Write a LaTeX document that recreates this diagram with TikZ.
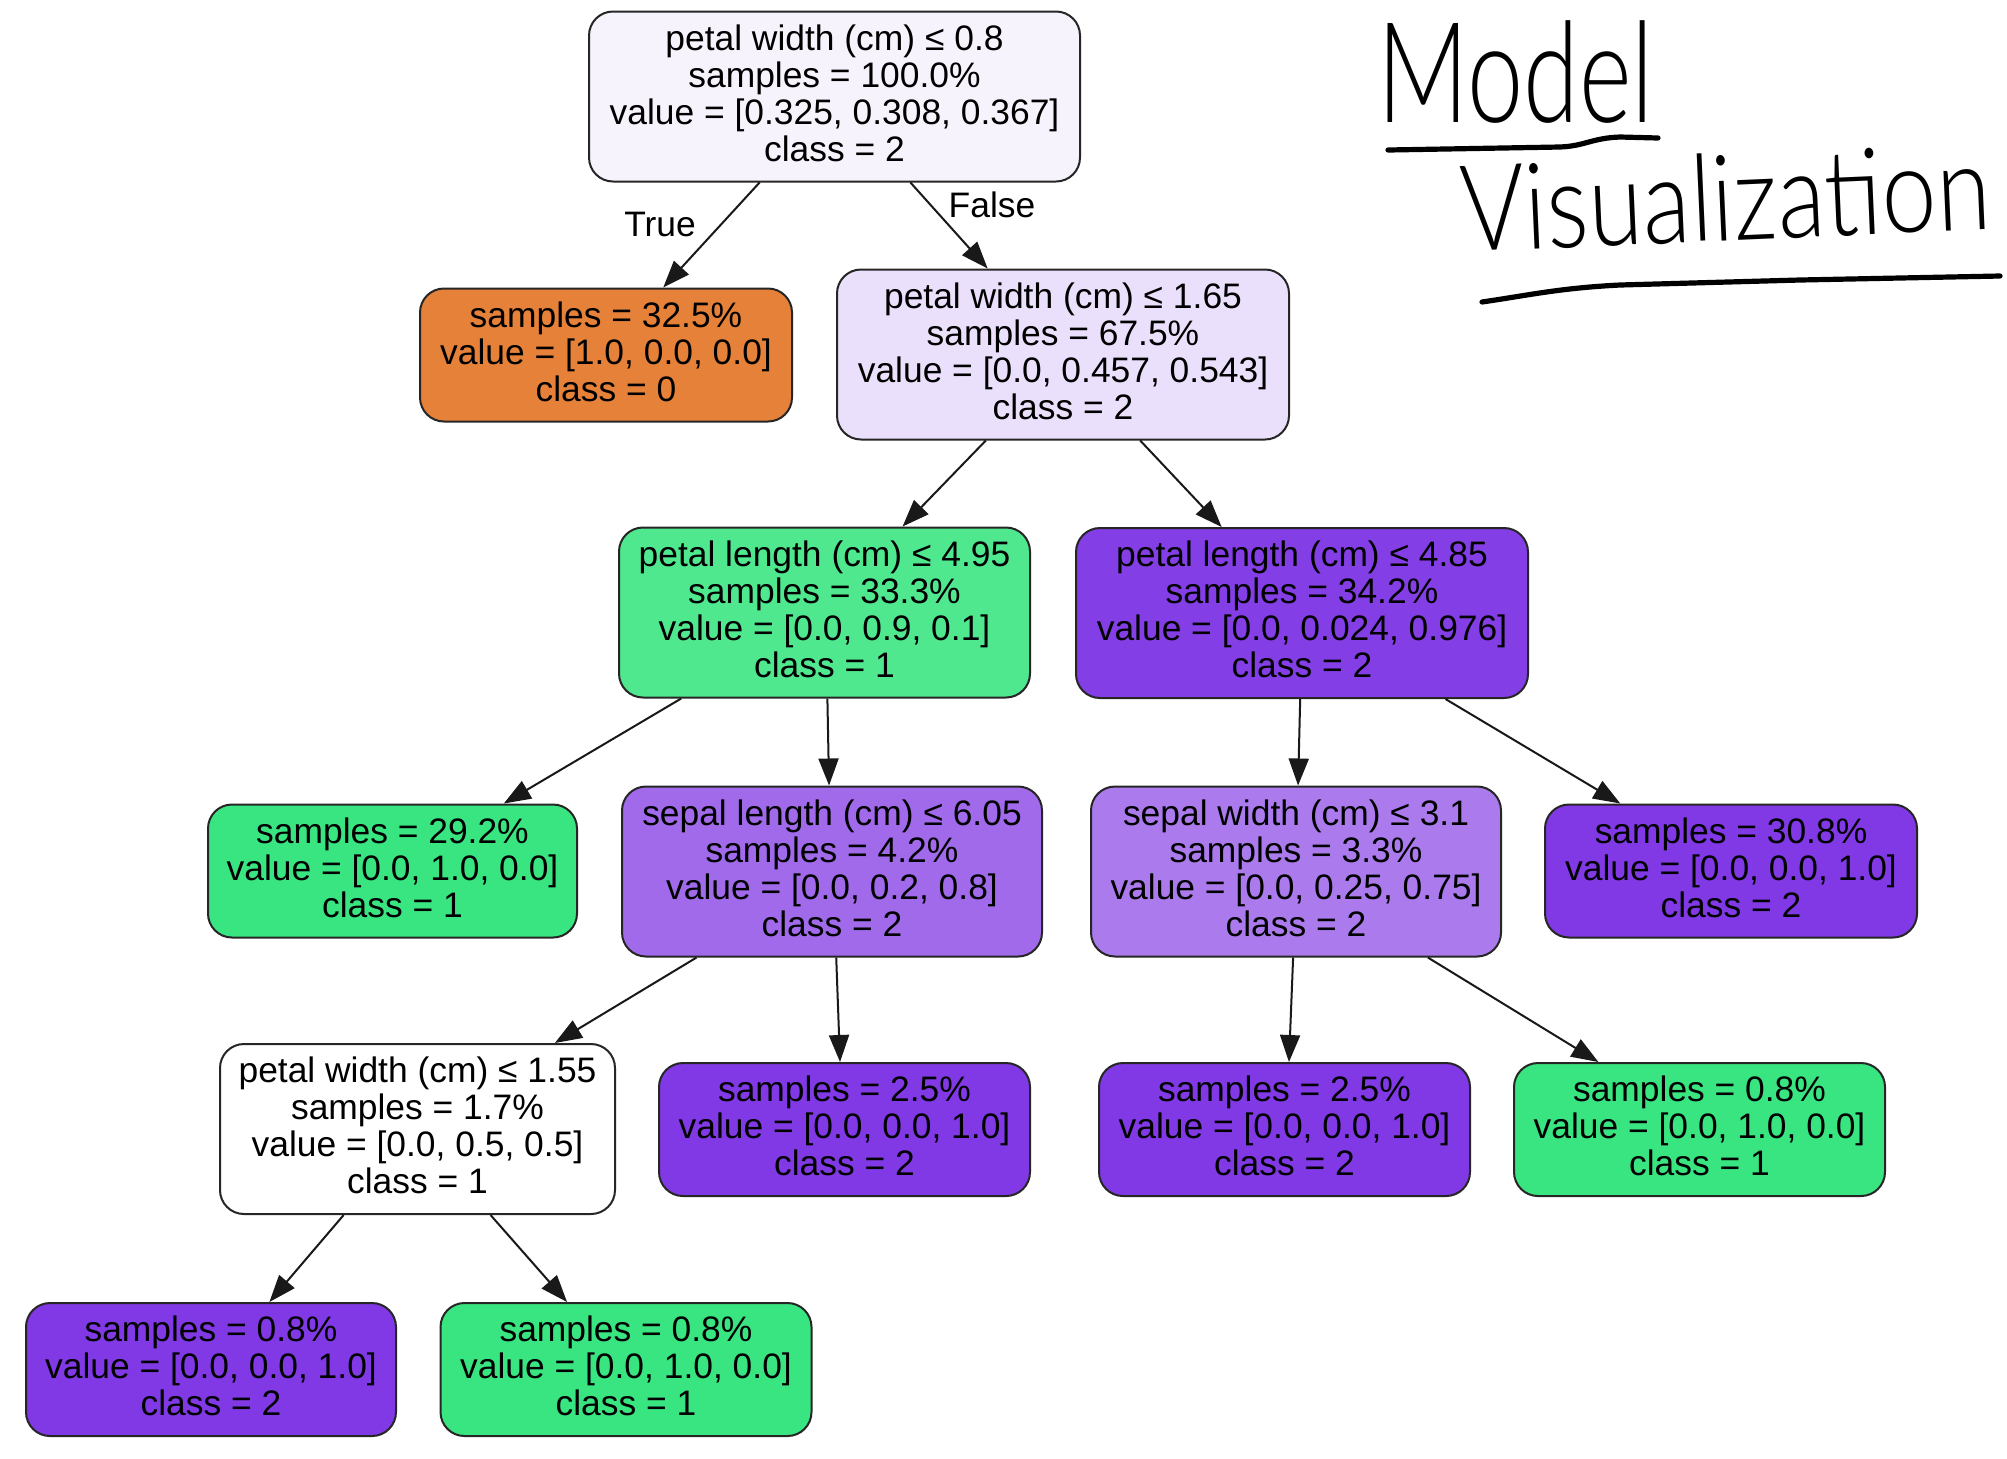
\documentclass[tikz,border=0pt]{standalone}
\usepackage{fontspec}
\usepackage{graphicx}
\setmainfont{Liberation Sans}
\newfontfamily\handfont{Lato Light}
\usetikzlibrary{arrows.meta,calc}
\definecolor{croot}{HTML}{F7F3FD}
\definecolor{corange}{HTML}{E58139}
\definecolor{cn2}{HTML}{EBE0FB}
\definecolor{cgreenA}{HTML}{4FE88F}
\definecolor{cpurpA}{HTML}{843EE6}
\definecolor{csl}{HTML}{A06AEB}
\definecolor{csw}{HTML}{AB7BEE}
\definecolor{cpurple}{HTML}{8139E5}
\definecolor{cgreen}{HTML}{39E581}
\begin{document}
\begin{tikzpicture}[x=0.5pt,y=-0.5pt,
  tn/.style={draw=black!85, line width=1pt, rounded corners=12pt, align=center,
    inner sep=0pt, text depth=3.4pt, font=\fontsize{17.7}{18.5}\selectfont},
  bigbox/.style={minimum height=85pt},
  smallbox/.style={minimum height=66.5pt},
  tedge/.style={line width=1pt, draw=black!90, -{Triangle[length=13.5pt,width=10pt]}},
  lbl/.style={font=\fontsize{17.7}{18.5}\selectfont, inner sep=0pt},
  hand/.style={line width=2.6pt, line cap=round, line join=round}
]
\fill[white] (0,0) rectangle (2007,1458);
\useasboundingbox (0,0) rectangle (2007,1458);

\node[tn,bigbox,fill=croot,minimum width=245.5pt] (root) at (834.5,96.5)
  {petal width (cm) ≤ 0.8\\samples = 100.0\%\\value = [0.325, 0.308, 0.367]\\class = 2};
\node[tn,smallbox,fill=corange,minimum width=186pt] (n1) at (606,355)
  {samples = 32.5\%\\value = [1.0, 0.0, 0.0]\\class = 0};
\node[tn,bigbox,fill=cn2,minimum width=226pt] (n2) at (1063,354.5)
  {petal width (cm) ≤ 1.65\\samples = 67.5\%\\value = [0.0, 0.457, 0.543]\\class = 2};
\node[tn,bigbox,fill=cgreenA,minimum width=205.5pt] (n3) at (824.5,612.5)
  {petal length (cm) ≤ 4.95\\samples = 33.3\%\\value = [0.0, 0.9, 0.1]\\class = 1};
\node[tn,bigbox,fill=cpurpA,minimum width=226pt] (n4) at (1302,613)
  {petal length (cm) ≤ 4.85\\samples = 34.2\%\\value = [0.0, 0.024, 0.976]\\class = 2};
\node[tn,smallbox,fill=cgreen,minimum width=184.5pt] (n5) at (392.5,871)
  {samples = 29.2\%\\value = [0.0, 1.0, 0.0]\\class = 1};
\node[tn,bigbox,fill=csl,minimum width=210pt] (n6) at (832,871.5)
  {sepal length (cm) ≤ 6.05\\samples = 4.2\%\\value = [0.0, 0.2, 0.8]\\class = 2};
\node[tn,bigbox,fill=csw,minimum width=205pt] (n7) at (1296,871.5)
  {sepal width (cm) ≤ 3.1\\samples = 3.3\%\\value = [0.0, 0.25, 0.75]\\class = 2};
\node[tn,smallbox,fill=cpurple,minimum width=186pt] (n8) at (1731,871)
  {samples = 30.8\%\\value = [0.0, 0.0, 1.0]\\class = 2};
\node[tn,bigbox,fill=white,minimum width=197.5pt] (n9) at (417.5,1129)
  {petal width (cm) ≤ 1.55\\samples = 1.7\%\\value = [0.0, 0.5, 0.5]\\class = 1};
\node[tn,smallbox,fill=cpurple,minimum width=185.5pt] (n10) at (844.5,1129.5)
  {samples = 2.5\%\\value = [0.0, 0.0, 1.0]\\class = 2};
\node[tn,smallbox,fill=cpurple,minimum width=185.5pt] (n11) at (1284.5,1129.5)
  {samples = 2.5\%\\value = [0.0, 0.0, 1.0]\\class = 2};
\node[tn,smallbox,fill=cgreen,minimum width=185.5pt] (n12) at (1699.5,1129.5)
  {samples = 0.8\%\\value = [0.0, 1.0, 0.0]\\class = 1};
\node[tn,smallbox,fill=cpurple,minimum width=185pt] (n13) at (211,1369.5)
  {samples = 0.8\%\\value = [0.0, 0.0, 1.0]\\class = 2};
\node[tn,smallbox,fill=cgreen,minimum width=185.5pt] (n14) at (626,1369.5)
  {samples = 0.8\%\\value = [0.0, 1.0, 0.0]\\class = 1};

% connectors
\draw[tedge] ($(root.south west)!0.348!(root.south east)$) -- ($(n1.north west)!0.653!(n1.north east)$);
\draw[tedge] ($(root.south west)!0.654!(root.south east)$) -- ($(n2.north west)!0.334!(n2.north east)$);
\draw[tedge] ($(n2.south west)!0.330!(n2.south east)$) -- ($(n3.north west)!0.689!(n3.north east)$);
\draw[tedge] ($(n2.south west)!0.670!(n2.south east)$) -- ($(n4.north west)!0.323!(n4.north east)$);
\draw[tedge] ($(n3.south west)!0.153!(n3.south east)$) -- ($(n5.north west)!0.800!(n5.north east)$);
\draw[tedge] ($(n3.south west)!0.507!(n3.south east)$) -- ($(n6.north west)!0.493!(n6.north east)$);
\draw[tedge] ($(n4.south west)!0.496!(n4.south east)$) -- ($(n7.north west)!0.505!(n7.north east)$);
\draw[tedge] ($(n4.south west)!0.816!(n4.south east)$) -- ($(n8.north west)!0.204!(n8.north east)$);
\draw[tedge] ($(n6.south west)!0.179!(n6.south east)$) -- ($(n9.north west)!0.846!(n9.north east)$);
\draw[tedge] ($(n6.south west)!0.510!(n6.south east)$) -- ($(n10.north west)!0.488!(n10.north east)$);
\draw[tedge] ($(n7.south west)!0.493!(n7.south east)$) -- ($(n11.north west)!0.512!(n11.north east)$);
\draw[tedge] ($(n7.south west)!0.820!(n7.south east)$) -- ($(n12.north west)!0.229!(n12.north east)$);
\draw[tedge] ($(n9.south west)!0.314!(n9.south east)$) -- ($(n13.north west)!0.657!(n13.north east)$);
\draw[tedge] ($(n9.south west)!0.684!(n9.south east)$) -- ($(n14.north west)!0.342!(n14.north east)$);

\node[lbl] (ltrue) at (660,224) {True};
\node[lbl] (lfalse) at (992,205) {False};

% handwritten title
\node[anchor=base west, inner sep=0pt, font=\handfont\fontsize{70}{70}\selectfont] (tmodel) at (1377,122)
  {\scalebox{0.72}[1]{Model}};
\node[anchor=base west, inner sep=0pt, rotate=2.5, font=\handfont\fontsize{60}{60}\selectfont] (tvis) at (1462,252)
  {\scalebox{0.82}[1]{Visualization}};
\draw[hand] (1388,150) -- (1560,147) .. controls (1585,146) and (1592,138) .. (1620,137) -- (1658,138);
\draw[hand] (1482,302) .. controls (1530,295) and (1560,288) .. (1620,285) -- (1800,280) -- (2000,276);
\end{tikzpicture}
\end{document}
